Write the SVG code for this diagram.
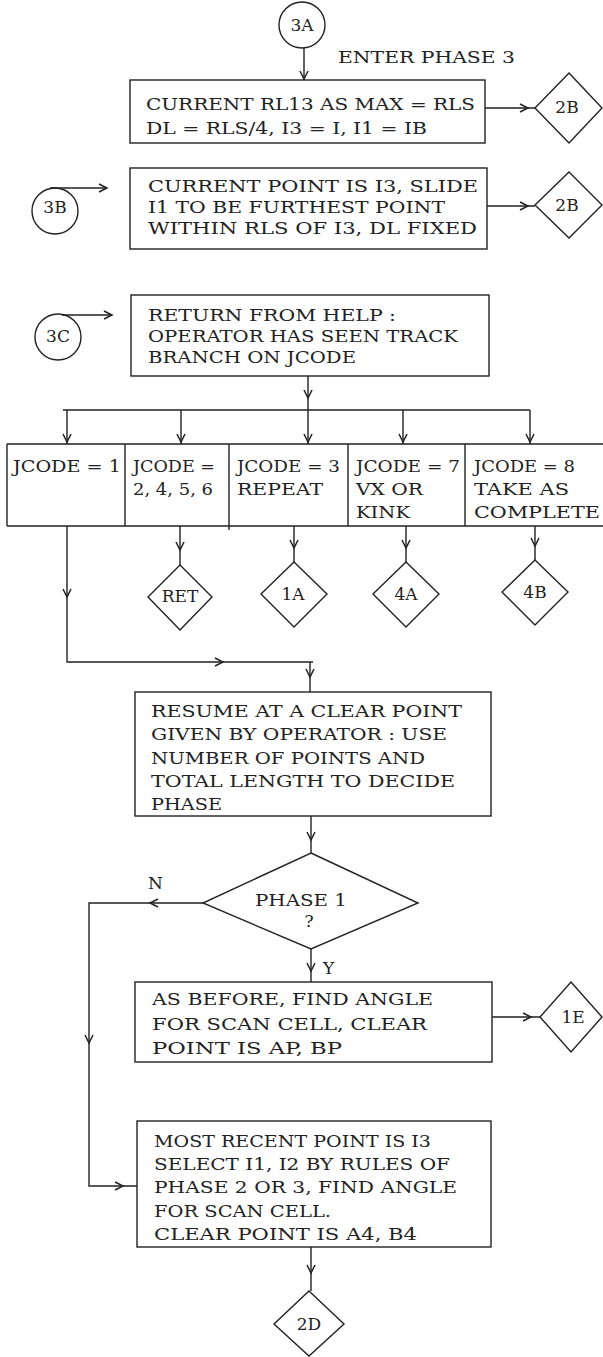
<svg xmlns="http://www.w3.org/2000/svg" xmlns:xlink="http://www.w3.org/1999/xlink" width="603" height="1357" viewBox="0 0 603 1357">
<style>
.bx{fill:none;stroke:#222;stroke-width:1.4}
.ln{fill:none;stroke:#222;stroke-width:1.4}
.t{font-family:"DejaVu Serif","Liberation Serif",serif;font-size:17px;fill:#222}
.c{text-anchor:middle}
</style>
<defs>
<path id="ah" d="M-8,-4 L0,0 L-8,4" fill="none" stroke="#222" stroke-width="1.5"/>
</defs>
<rect x="0" y="0" width="603" height="1357" fill="#fff"/>

<g id="n3A"><circle class="bx" cx="302" cy="25" r="23"/><text class="t c" x="302" y="31">3A</text></g>
<g id="enter"><text class="t" x="338" y="63" textLength="177" lengthAdjust="spacingAndGlyphs">ENTER PHASE 3</text></g>
<g id="box1"><rect class="bx" x="130" y="80" width="355" height="63"/>
<text class="t" x="146" y="110" textLength="329" lengthAdjust="spacingAndGlyphs">CURRENT RL13 AS MAX = RLS</text>
<text class="t" x="146" y="134" textLength="281" lengthAdjust="spacingAndGlyphs">DL = RLS/4, I3 = I, I1 = IB</text></g>
<g id="d2B1"><polygon class="bx" points="569,73 602,108 569,143 535,108"/><text class="t c" x="567" y="113">2B</text></g>
<g id="n3B"><circle class="bx" cx="55" cy="211" r="23"/><text class="t c" x="55" y="213">3B</text></g>
<g id="box2"><rect class="bx" x="130" y="168" width="357" height="81"/>
<text class="t" x="148" y="192" textLength="330" lengthAdjust="spacingAndGlyphs">CURRENT POINT IS I3, SLIDE</text>
<text class="t" x="148" y="213" textLength="297" lengthAdjust="spacingAndGlyphs">I1 TO BE FURTHEST POINT</text>
<text class="t" x="148" y="234" textLength="329" lengthAdjust="spacingAndGlyphs">WITHIN RLS OF I3, DL FIXED</text></g>
<g id="d2B2"><polygon class="bx" points="569,172 602,205 569,238 535,205"/><text class="t c" x="567" y="211">2B</text></g>
<g id="n3C"><circle class="bx" cx="58" cy="337" r="23"/><text class="t c" x="58" y="342">3C</text></g>
<g id="box3"><rect class="bx" x="131" y="295" width="358" height="81"/>
<text class="t" x="148" y="321" textLength="248" lengthAdjust="spacingAndGlyphs">RETURN FROM HELP :</text>
<text class="t" x="148" y="342" textLength="310" lengthAdjust="spacingAndGlyphs">OPERATOR HAS SEEN TRACK</text>
<text class="t" x="148" y="363" textLength="208" lengthAdjust="spacingAndGlyphs">BRANCH ON JCODE</text></g>

<g id="table">
<path class="ln" d="M7,444 H603 M7,526 H603 M7,444 V526 M125,444 V526 M229,444 V530 M348,444 V526 M465,444 V526"/>
<g id="j1"><text class="t" x="13" y="472" textLength="108" lengthAdjust="spacingAndGlyphs">JCODE = 1</text></g>
<g id="j2"><text class="t" x="133" y="472" textLength="82" lengthAdjust="spacingAndGlyphs">JCODE =</text><text class="t" x="133" y="495" textLength="80" lengthAdjust="spacingAndGlyphs">2, 4, 5, 6</text></g>
<g id="j3"><text class="t" x="237" y="472" textLength="103" lengthAdjust="spacingAndGlyphs">JCODE = 3</text><text class="t" x="237" y="495" textLength="86" lengthAdjust="spacingAndGlyphs">REPEAT</text></g>
<g id="j7"><text class="t" x="356" y="472" textLength="104" lengthAdjust="spacingAndGlyphs">JCODE = 7</text><text class="t" x="356" y="495" textLength="67" lengthAdjust="spacingAndGlyphs">VX OR</text><text class="t" x="356" y="518" textLength="54" lengthAdjust="spacingAndGlyphs">KINK</text></g>
<g id="j8"><text class="t" x="474" y="472" textLength="101" lengthAdjust="spacingAndGlyphs">JCODE = 8</text><text class="t" x="474" y="495" textLength="95" lengthAdjust="spacingAndGlyphs">TAKE AS</text><text class="t" x="474" y="518" textLength="126" lengthAdjust="spacingAndGlyphs">COMPLETE</text></g>
</g>

<g id="dRET"><polygon class="bx" points="180,565 212,597 180,630 148,597"/><text class="t c" x="180" y="602">RET</text></g>
<g id="d1A"><polygon class="bx" points="294,562 327,594 294,627 261,594"/><text class="t c" x="293" y="600">1A</text></g>
<g id="d4A"><polygon class="bx" points="406,562 439,594 406,627 373,594"/><text class="t c" x="406" y="600">4A</text></g>
<g id="d4B"><polygon class="bx" points="535,560 568,592 535,625 502,592"/><text class="t c" x="535" y="598">4B</text></g>

<g id="box4"><rect class="bx" x="135" y="692" width="356" height="124"/>
<text class="t" x="151" y="717" textLength="311" lengthAdjust="spacingAndGlyphs">RESUME AT A CLEAR POINT</text>
<text class="t" x="151" y="740" textLength="296" lengthAdjust="spacingAndGlyphs">GIVEN BY OPERATOR : USE</text>
<text class="t" x="151" y="764" textLength="274" lengthAdjust="spacingAndGlyphs">NUMBER OF POINTS AND</text>
<text class="t" x="151" y="787" textLength="304" lengthAdjust="spacingAndGlyphs">TOTAL LENGTH TO DECIDE</text>
<text class="t" x="151" y="810" textLength="71" lengthAdjust="spacingAndGlyphs">PHASE</text></g>

<g id="dec"><polygon class="bx" points="311,853 418,903 311,949 203,903"/>
<text class="t" x="255" y="906" textLength="92" lengthAdjust="spacingAndGlyphs">PHASE 1</text>
<text class="t c" x="309" y="927">?</text></g>

<g id="box5"><rect class="bx" x="135" y="982" width="357" height="80"/>
<text class="t" x="152" y="1005" textLength="281" lengthAdjust="spacingAndGlyphs">AS BEFORE, FIND ANGLE</text>
<text class="t" x="152" y="1030" textLength="275" lengthAdjust="spacingAndGlyphs">FOR SCAN CELL, CLEAR</text>
<text class="t" x="152" y="1054" textLength="190" lengthAdjust="spacingAndGlyphs">POINT IS AP, BP</text></g>
<g id="d1E"><polygon class="bx" points="571,982 602,1017 571,1052 540,1017"/><text class="t c" x="573" y="1023">1E</text></g>

<g id="box6"><rect class="bx" x="137" y="1121" width="354" height="126"/>
<text class="t" x="154" y="1147" textLength="277" lengthAdjust="spacingAndGlyphs">MOST RECENT POINT IS I3</text>
<text class="t" x="154" y="1170" textLength="296" lengthAdjust="spacingAndGlyphs">SELECT I1, I2 BY RULES OF</text>
<text class="t" x="154" y="1193" textLength="303" lengthAdjust="spacingAndGlyphs">PHASE 2 OR 3, FIND ANGLE</text>
<text class="t" x="154" y="1217" textLength="177" lengthAdjust="spacingAndGlyphs">FOR SCAN CELL.</text>
<text class="t" x="154" y="1240" textLength="263" lengthAdjust="spacingAndGlyphs">CLEAR POINT IS A4, B4</text></g>
<g id="d2D"><polygon class="bx" points="309,1291 344,1324 309,1356 274,1324"/><text class="t c" x="309" y="1330">2D</text></g>

<g id="connectors">
<path class="ln" d="M304,48 V80 M485,108 H535 M50,188 H107 M487,206 H535 M62,315 H112 M308,376 V410 M63,410 H530 M67,410 V444 M181,410 V444 M308,410 V444 M403,410 V444 M530,410 V444 M67,526 V662 H313 M310,662 V692 M180,526 V565 M294,526 V562 M406,526 V562 M535,526 V560 M311,816 V853 M203,903 H89 V1186 H137 M311,949 V982 M492,1017 H540 M311,1247 V1291"/>
<use xlink:href="#ah" transform="translate(304,79) rotate(90)"/>
<use xlink:href="#ah" transform="translate(528,108)"/>
<use xlink:href="#ah" transform="translate(107,188)"/>
<use xlink:href="#ah" transform="translate(528,206)"/>
<use xlink:href="#ah" transform="translate(112,315)"/>
<use xlink:href="#ah" transform="translate(308,398) rotate(90)"/>
<use xlink:href="#ah" transform="translate(67,442) rotate(90)"/>
<use xlink:href="#ah" transform="translate(181,442) rotate(90)"/>
<use xlink:href="#ah" transform="translate(308,442) rotate(90)"/>
<use xlink:href="#ah" transform="translate(403,442) rotate(90)"/>
<use xlink:href="#ah" transform="translate(530,442) rotate(90)"/>
<use xlink:href="#ah" transform="translate(67,597) rotate(90)"/>
<use xlink:href="#ah" transform="translate(223,662)"/>
<use xlink:href="#ah" transform="translate(310,677) rotate(90)"/>
<use xlink:href="#ah" transform="translate(180,550) rotate(90)"/>
<use xlink:href="#ah" transform="translate(294,548) rotate(90)"/>
<use xlink:href="#ah" transform="translate(406,548) rotate(90)"/>
<use xlink:href="#ah" transform="translate(535,546) rotate(90)"/>
<use xlink:href="#ah" transform="translate(311,840) rotate(90)"/>
<use xlink:href="#ah" transform="translate(150,903) rotate(180)"/>
<use xlink:href="#ah" transform="translate(89,1043) rotate(90)"/>
<use xlink:href="#ah" transform="translate(123,1186)"/>
<use xlink:href="#ah" transform="translate(311,971) rotate(90)"/>
<use xlink:href="#ah" transform="translate(531,1017)"/>
<use xlink:href="#ah" transform="translate(311,1273) rotate(90)"/>
<text class="t" x="148" y="889">N</text>
<text class="t" x="323" y="974">Y</text>
</g>
</svg>
